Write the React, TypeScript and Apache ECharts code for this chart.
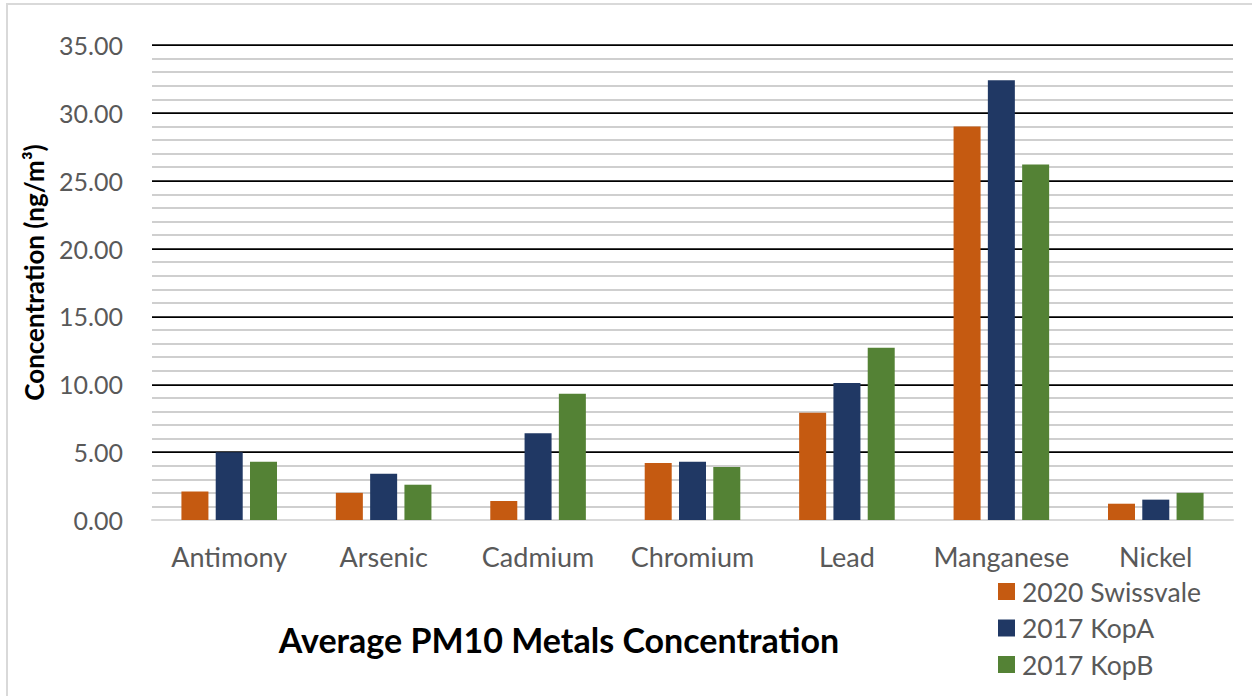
import React, { useEffect, useRef } from "react";
import * as echarts from "echarts";

// Metals measured (x categories)
const metals = ["Antimony", "Arsenic", "Cadmium", "Chromium", "Lead", "Manganese", "Nickel"];

// Average PM10 concentrations, ng/m³
const swissvale2020 = [2.1, 2.0, 1.4, 4.2, 7.9, 29.0, 1.2];
const kopA2017 = [5.0, 3.4, 6.4, 4.3, 10.1, 32.4, 1.5];
const kopB2017 = [4.3, 2.6, 9.3, 3.9, 12.7, 26.2, 2.0];

const seriesNames = ["2020 Swissvale", "2017 KopA", "2017 KopB"];
const seriesColors = ["#C55A11", "#203864", "#548235"];

const FONT = "Lato, 'Open Sans', sans-serif";

export default function App() {
  const ref = useRef<HTMLDivElement>(null);

  useEffect(() => {
    if (!ref.current) return;
    const chart = echarts.init(ref.current, null, { renderer: "svg" });
    const values = [swissvale2020, kopA2017, kopB2017];

    chart.setOption({
      animation: false,
      backgroundColor: "#ffffff",
      textStyle: { fontFamily: FONT },
      grid: { left: 152, right: 19, top: 45, bottom: 176, containLabel: false },
      title: {
        text: "Average PM10 Metals Concentration",
        left: 554,
        top: 617,
        textAlign: "center",
        textStyle: { fontFamily: FONT, fontWeight: "bold", fontSize: 34, color: "#000000" },
      },
      legend: {
        orient: "vertical",
        left: 993,
        top: 573,
        itemWidth: 17,
        itemHeight: 17,
        itemGap: 9.5,
        icon: "rect",
        data: seriesNames,
        textStyle: { fontFamily: FONT, fontSize: 26.5, color: "#595959", padding: [0, 0, 0, 2] },
      },
      xAxis: {
        type: "category",
        data: metals,
        axisLine: { show: true, lineStyle: { color: "#d9d9d9", width: 2 } },
        axisTick: { show: false },
        axisLabel: { interval: 0, fontFamily: FONT, fontSize: 27, color: "#595959", margin: 23 },
      },
      yAxis: {
        type: "value",
        min: 0,
        max: 35,
        interval: 5,
        name: "Concentration (ng/m³)",
        nameLocation: "middle",
        nameGap: 105,
        nameTextStyle: {
          fontFamily: FONT,
          fontWeight: "bold",
          fontSize: 26,
          color: "#000000",
          padding: [0, 0, 0, 20],
        },
        axisLine: { show: false },
        axisTick: { show: false },
        axisLabel: {
          fontFamily: FONT,
          fontSize: 25,
          color: "#595959",
          margin: 29,
          formatter: (v: number) => v.toFixed(2),
        },
        splitLine: {
          show: true,
          lineStyle: {
            color: ["#d9d9d9", "#000000", "#000000", "#000000", "#000000", "#000000", "#000000", "#000000"],
            width: 1.75,
          },
        },
        minorTick: { show: false, splitNumber: 5 },
        minorSplitLine: { show: true, lineStyle: { color: "#bfbfbf", width: 1.5 } },
      },
      series: seriesNames.map((name, i) => ({
        name,
        type: "bar",
        data: values[i],
        barWidth: 27,
        barGap: "27%",
        itemStyle: { color: seriesColors[i] },
        z: 3,
      })),
      graphic: [
        {
          type: "rect",
          shape: { x: 7, y: 4, width: 1400, height: 900 },
          style: { fill: "none", stroke: "#d9d9d9", lineWidth: 2 },
          silent: true,
        },
      ],
    });

    return () => chart.dispose();
  }, []);

  return (
    <div
      ref={ref}
      style={{ position: "fixed", left: 0, top: 0, width: 1252, height: 696 }}
    />
  );
}
